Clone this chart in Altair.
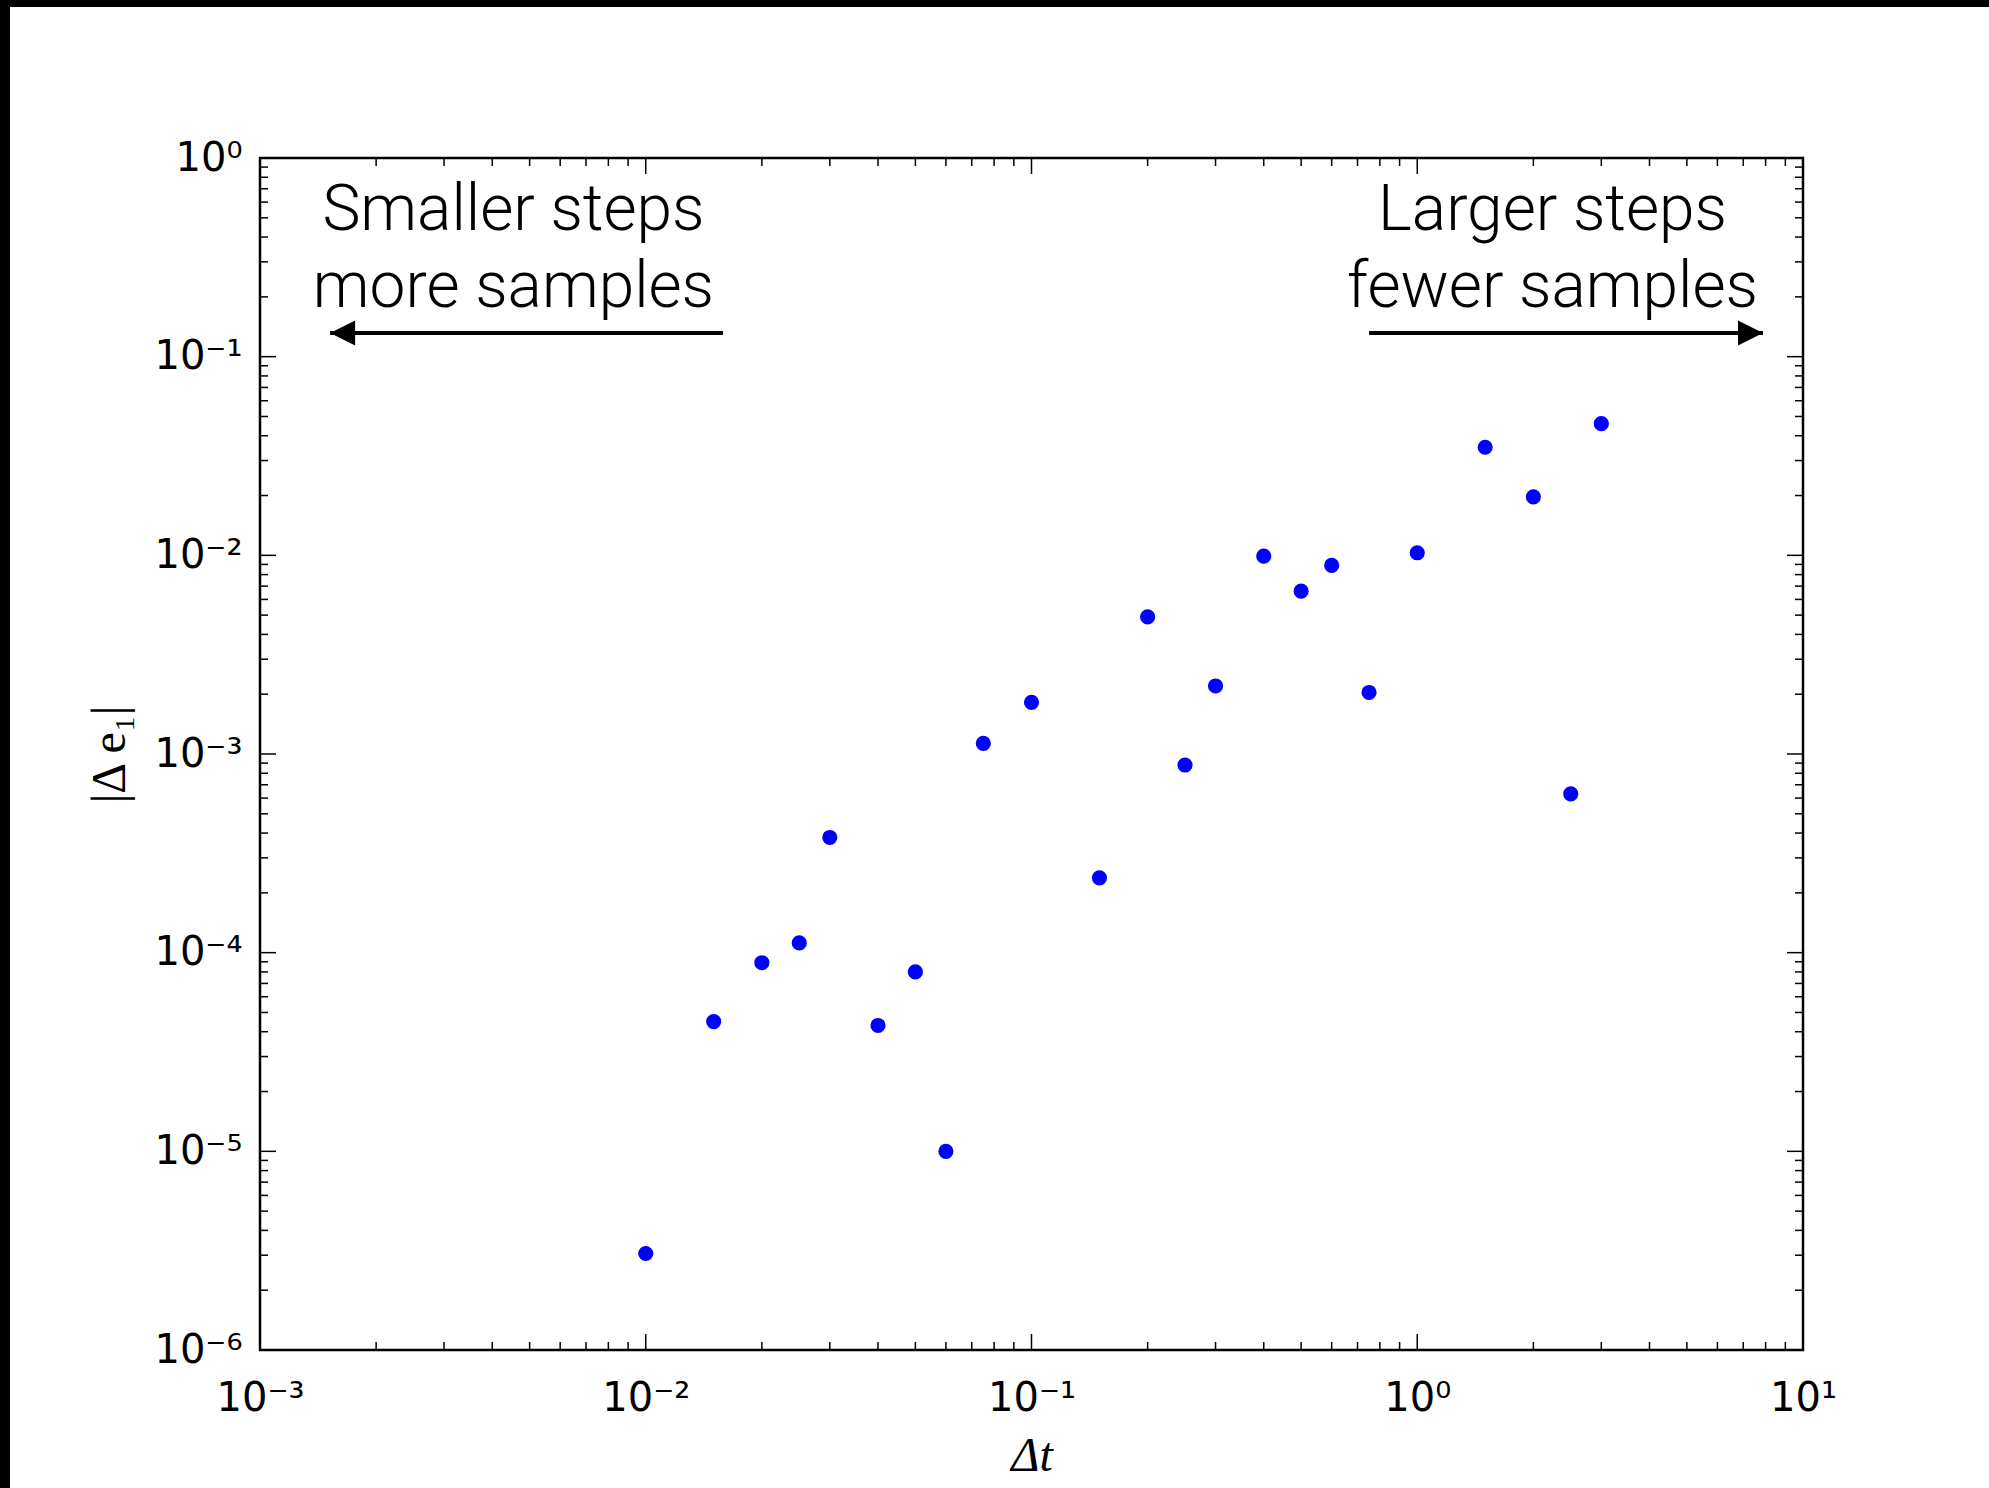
import altair as alt
import pandas as pd

# ---- data ----
dt = [0.01, 0.015, 0.02, 0.025, 0.03, 0.04, 0.05, 0.06, 0.075, 0.1, 0.15, 0.2,
      0.25, 0.3, 0.4, 0.5, 0.6, 0.75, 1.0, 1.5, 2.0, 2.5, 3.0]
de = [3.06e-6, 4.5e-5, 8.9e-5, 1.12e-4, 3.8e-4, 4.3e-5, 8.0e-5, 1.0e-5, 1.13e-3,
      1.82e-3, 2.38e-4, 4.9e-3, 8.8e-4, 2.2e-3, 9.9e-3, 6.6e-3, 8.9e-3, 2.04e-3,
      1.03e-2, 3.5e-2, 1.97e-2, 6.3e-4, 4.6e-2]

x_major = [1e-3, 1e-2, 1e-1, 1e0, 1e1]
x_exp = [-3, -2, -1, 0, 1]
x_labels = ["10⁻³", "10⁻²", "10⁻¹", "10⁰", "10¹"]
y_major = [1e-6, 1e-5, 1e-4, 1e-3, 1e-2, 1e-1, 1e0]
y_exp = [-6, -5, -4, -3, -2, -1, 0]
y_labels = ["10⁻⁶", "10⁻⁵", "10⁻⁴", "10⁻³", "10⁻²", "10⁻¹", "10⁰"]
x_minor = [k * 10.0 ** d for d in range(-3, 1) for k in range(2, 10)]
y_minor = [k * 10.0 ** d for d in range(-6, 0) for k in range(2, 10)]

note_x = [0.00454, 0.00454, 2.242, 2.242]
note_y = [0.4335, 0.178, 0.4335, 0.178]
note_text = ["Smaller steps", "more samples", "Larger steps", "fewer samples"]

arrow_start = [0.01586, 0.750]
arrow_tip = [0.00152, 7.876]
arrow_y = [0.1315, 0.1315]
arrow_angle = [180, 0]

W, H = 1543, 1192
PAD_L, PAD_T = 260, 158
TOTAL_W, TOTAL_H = 1989, 1488

xs = alt.Scale(type="log", domain=[1e-3, 10], nice=False)
ys = alt.Scale(type="log", domain=[1e-6, 1], nice=False)


def label_expr(exps, labels):
    parts = [f"round(log(datum.value)/LN10) == {e} ? '{l}' : " for e, l in zip(exps, labels)]
    return "".join(parts) + "''"


XAXIS = alt.Axis(
    values=x_major, labelExpr=label_expr(x_exp, x_labels), ticks=False, tickSize=0,
    domain=False, grid=False, labelFont="DejaVu Sans", labelFontSize=40,
    labelColor="black", labelPadding=28, labelFlush=False, labelOverlap=False,
    title="Δt", titleFont="Liberation Serif", titleFontSize=48,
    titleFontStyle="italic", titleFontWeight="normal", titleColor="black",
    titlePadding=14)
YAXIS = alt.Axis(
    values=y_major, labelExpr=label_expr(y_exp, y_labels), ticks=False, tickSize=0,
    domain=False, grid=False, labelFont="DejaVu Sans", labelFontSize=40,
    labelColor="black", labelPadding=18, labelFlush=False, labelOverlap=False,
    title="|Δ e₁|", titleFont="Liberation Serif", titleFontSize=48,
    titleFontWeight="normal", titleColor="black", titlePadding=19)


def X(field):
    return alt.X(field, scale=xs, axis=XAXIS)


def Y(field):
    return alt.Y(field, scale=ys, axis=YAXIS)


points_df = pd.DataFrame({"dt": dt, "de": de})
points = alt.Chart(points_df).mark_circle(color="#0000ff", size=230, opacity=1).encode(
    x=X("dt:Q"), y=Y("de:Q"))


def xticks(values, length):
    df = pd.DataFrame({"v": values})
    base = alt.Chart(df).mark_rule(color="black", strokeWidth=1.5)
    bottom = base.encode(x=X("v:Q"), y=alt.value(H), y2=alt.value(H - length))
    top = base.encode(x=X("v:Q"), y=alt.value(0), y2=alt.value(length))
    return [bottom, top]


def yticks(values, length):
    df = pd.DataFrame({"v": values})
    base = alt.Chart(df).mark_rule(color="black", strokeWidth=1.5)
    left = base.encode(y=Y("v:Q"), x=alt.value(0), x2=alt.value(length))
    right = base.encode(y=Y("v:Q"), x=alt.value(W), x2=alt.value(W - length))
    return [left, right]


tick_layers = (xticks(x_major, 16) + xticks(x_minor, 8) +
               yticks(y_major, 16) + yticks(y_minor, 8))

notes_df = pd.DataFrame({"x": note_x, "y": note_y, "t": note_text})
notes = alt.Chart(notes_df).mark_text(
    font="Roboto", fontWeight=300, fontSize=64, align="center",
    baseline="alphabetic", color="black").encode(
    x=X("x:Q"), y=Y("y:Q"), text="t:N")

arrows_df = pd.DataFrame({"x0": arrow_start, "x1": arrow_tip, "y": arrow_y,
                          "ang": arrow_angle})
shafts = alt.Chart(arrows_df).mark_rule(color="black", strokeWidth=4).encode(
    x=X("x0:Q"), x2="x1:Q", y=Y("y:Q"))
heads = alt.Chart(arrows_df).mark_point(
    shape="M0,0L-2,-1L-2,1Z", filled=True, size=625, color="black",
    opacity=1, strokeWidth=0).encode(
    x=X("x1:Q"), y=Y("y:Q"), angle=alt.Angle("ang:Q", scale=None))

dummy = pd.DataFrame({"a": [0]})
border_left = alt.Chart(dummy).mark_rect(color="black").encode(
    x=alt.value(-PAD_L), x2=alt.value(-PAD_L + 10),
    y=alt.value(-PAD_T), y2=alt.value(TOTAL_H - PAD_T))
border_top = alt.Chart(dummy).mark_rect(color="black").encode(
    x=alt.value(-PAD_L), x2=alt.value(TOTAL_W - PAD_L),
    y=alt.value(-PAD_T), y2=alt.value(-PAD_T + 7))

chart = alt.layer(
    points, *tick_layers, shafts, heads, notes, border_left, border_top
).properties(
    width=W, height=H,
    autosize=alt.AutoSizeParams(type="none"),
    padding={"left": PAD_L, "top": PAD_T, "right": TOTAL_W - PAD_L - W,
             "bottom": TOTAL_H - PAD_T - H},
    background="white",
).configure_view(stroke="black", strokeWidth=2.5)

chart.save("out.html", embed_options={"renderer": "svg", "actions": False})
